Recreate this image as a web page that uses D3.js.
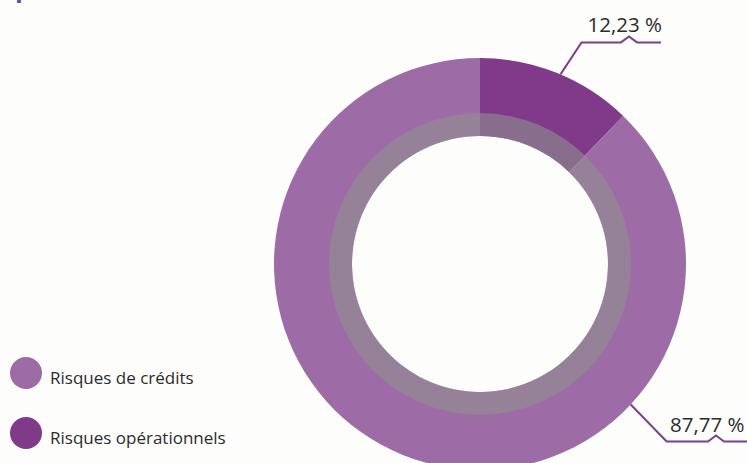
<!DOCTYPE html>
<html><head><meta charset="utf-8">
<script src="https://cdn.jsdelivr.net/npm/d3@7"></script>
<style>
html,body{margin:0;padding:0;background:#fdfdfb;}
svg{display:block;}
text{font-family:"Open Sans","Noto Sans",sans-serif;fill:#2b2b2b;}
</style></head>
<body><svg id="c" width="747" height="463"></svg>
<script>
const categories = ["Risques opérationnels", "Risques de crédits"];
const values = [12.23, 87.77];
const valueLabels = ["12,23 %", "87,77 %"];
const legendOrder = ["Risques de crédits", "Risques opérationnels"];

const colors = {"Risques de crédits":"#9d6ba5","Risques opérationnels":"#803a89"};
const svg = d3.select("#c");
const W=747,H=463, cx=480, cy=264, R=206, rBand=151, rIn=128;

svg.append("rect").attr("x",17).attr("y",0).attr("width",4).attr("height",3).attr("fill","#5a55c4");

const data = categories.map((c,i)=>({cat:c,value:values[i],label:valueLabels[i]}));
const pie = d3.pie().sort(null).value(d=>d.value).startAngle(0).endAngle(2*Math.PI);
const arcs = pie(data);
const g = svg.append("g").attr("transform",`translate(${cx},${cy})`);
const arcFull = d3.arc().innerRadius(rIn).outerRadius(R);
g.selectAll("path.s").data(arcs).join("path").attr("class","s")
  .attr("d",arcFull).attr("fill",d=>colors[d.data.cat]);
// grey translucent inner band
g.append("path").attr("d",d3.arc().innerRadius(rIn).outerRadius(rBand).startAngle(0).endAngle(2*Math.PI)())
  .attr("fill","#8f8f8f").attr("fill-opacity",0.6);

// leader lines (layout)
const leader = [
  {angle: 23, elbow:[21,-32], lineEnd:661, bump:621, textX:662, textY:32, anchor:"end"},
  {angle: 133, elbow:[36,37], lineEnd:747, bump:708, textX:670, textY:432, anchor:"start"}
];
arcs.forEach((a,i)=>{
  const L = leader[i];
  const t = L.angle*Math.PI/180;
  const x0 = cx + R*Math.sin(t), y0 = cy - R*Math.cos(t);
  const x1 = x0+L.elbow[0], y1 = y0+L.elbow[1];
  const p = d3.path();
  p.moveTo(x0,y0); p.lineTo(x1,y1); p.lineTo(L.bump,y1);
  p.lineTo(L.bump+8,y1-6); p.lineTo(L.bump+16,y1); p.lineTo(L.lineEnd,y1);
  svg.append("path").attr("d",p.toString()).attr("fill","none")
    .attr("stroke","#7d3f88").attr("stroke-width",2);
  svg.append("text").attr("x",L.textX).attr("y",L.textY).attr("text-anchor",L.anchor)
    .attr("font-size",20.5).text(a.data.label);
});

// legend
const leg = svg.append("g");
legendOrder.forEach((c,i)=>{
  const y = 373 + i*60;
  leg.append("circle").attr("cx",26).attr("cy",y).attr("r",16).attr("fill",colors[c]);
  leg.append("text").attr("x",50).attr("y",y+11).attr("font-size",17).text(c);
});
</script></body></html>
